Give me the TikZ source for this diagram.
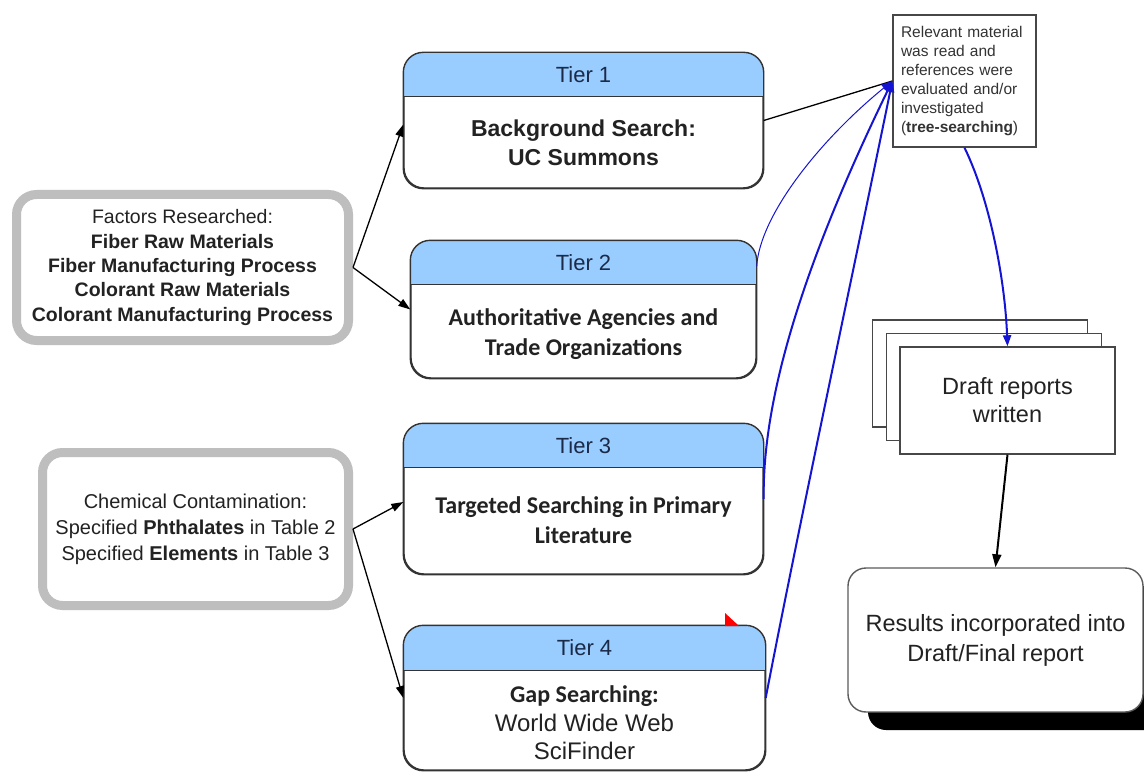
\documentclass[tikz,border=0pt]{standalone}
\usepackage{fontspec}
\setmainfont{Liberation Sans}
\newfontfamily\carlito{Carlito}
\usetikzlibrary{arrows.meta,calc,shadows}
\definecolor{hdr}{HTML}{99CCFF}
\definecolor{edge}{HTML}{333333}
\definecolor{txt}{HTML}{222222}
\definecolor{navy}{HTML}{1B2A47}
\definecolor{framegray}{HTML}{BEBEBE}
\definecolor{blu}{HTML}{1414D2}
\newcommand\tierhead[2]{%
  \begin{scope}
    \clip[rounded corners=20pt] (#1.south west) rectangle (#1.north east);
    \fill[hdr] (#1.north west) rectangle ($(#1.north east)+(0,#2)$);
  \end{scope}
  \draw[edge,line width=1.4pt] ($(#1.north west)+(0,#2)$) -- ($(#1.north east)+(0,#2)$);
  \draw[edge,line width=1.4pt,rounded corners=20pt] (#1.south west) rectangle (#1.north east);
}
\tikzset{
  tierbox/.style={draw=edge, line width=1.4pt, rounded corners=20pt, fill=white, inner sep=0pt},
  hdtext/.style={text=navy, font=\fontsize{22}{27}\selectfont, inner sep=0pt},
  bodyA/.style={text=txt, align=center, font=\fontsize{23}{29}\selectfont\bfseries, inner sep=0pt},
  bodyC/.style={text=txt, align=center, font=\fontsize{24}{30}\selectfont\carlito\bfseries, inner sep=0pt},
  framebox/.style={draw=framegray, line width=9pt, rounded corners=20pt, fill=white, text=txt, align=center, inner sep=0pt},
  notebox/.style={draw=edge!90, line width=1.4pt, fill=white, text=edge, align=left, text width=127pt, inner xsep=8pt, inner ysep=9pt, minimum height=132pt, font=\fontsize{15.5}{19}\selectfont},
  draftbox/.style={draw=edge!90, line width=1.4pt, fill=white, minimum width=215pt, minimum height=107pt, inner sep=0pt, align=center, text=txt, font=\fontsize{23.5}{28}\selectfont},
  resbox/.style={draw=edge!80, line width=1.4pt, fill=white, rounded corners=18pt, minimum width=295pt, minimum height=144pt, inner sep=0pt, align=center, text=txt, font=\fontsize{23.5}{30}\selectfont, drop shadow={fill=black, opacity=1, shadow xshift=20pt, shadow yshift=-18pt}},
  blk/.style={draw=black, line width=1.3pt, -{Triangle[length=12pt,width=8pt]}},
  bluethin/.style={draw=blu, line width=1pt, -{Triangle[length=11pt,width=8pt]}},
  bluethick/.style={draw=blu, line width=2pt, -{Triangle[length=11pt,width=8pt]}},
}
\begin{document}
\begin{tikzpicture}[x=1pt,y=-1pt]
\useasboundingbox (0,0) rectangle (1144,773);
\fill[white] (0,0) rectangle (1144,773);

% left boxes
\node[framebox, minimum width=332pt, minimum height=146pt, font=\fontsize{19.5}{24.3}\selectfont] (f1) at (182.5,267.5)
  {Factors Researched:\\\textbf{Fiber Raw Materials}\\\textbf{Fiber Manufacturing Process}\\\textbf{Colorant Raw Materials}\\\textbf{Colorant Manufacturing Process}};
\node[framebox, minimum width=306pt, minimum height=153pt, font=\fontsize{20}{26}\selectfont] (f2) at (195.5,529)
  {\raisebox{0pt}{Chemical Contamination:}\\Specified \textbf{Phthalates} in Table 2\\Specified \textbf{Elements} in Table 3};

% tier boxes
\node[tierbox, minimum width=359pt, minimum height=135pt] (t1) at (583.5,120.5) {};
\tierhead{t1}{44}
\node[hdtext] (t1h) at (583.5,75) {Tier 1};
\node[bodyA] (t1b) at (583.5,142.5) {Background Search:\\UC Summons};

\node[tierbox, minimum width=345pt, minimum height=137pt] (t2) at (583.5,309.5) {};
\tierhead{t2}{44}
\node[hdtext] (t2h) at (583.5,263) {Tier 2};
\node[bodyC] (t2b) at (583.5,334) {Authoritative Agencies and\\Trade Organizations};

\node[tierbox, minimum width=359pt, minimum height=150pt] (t3) at (583.5,499) {};
\tierhead{t3}{44}
\node[hdtext] (t3h) at (583.5,446) {Tier 3};
\node[bodyC] (t3b) at (583.5,520) {Targeted Searching in Primary\\Literature};

\node[tierbox, minimum width=361pt, minimum height=144pt] (t4) at (584.5,698) {};
\tierhead{t4}{45}
\node[hdtext] (t4h) at (584.5,648) {Tier 4};
\node[text=txt, align=center, inner sep=0pt, font=\fontsize{24}{28.5}\selectfont] (t4b) at (584.5,723)
  {{\carlito\bfseries Gap Searching:}\\World Wide Web\\SciFinder};
\fill[red] (725,613) -- (739,626) -- (725,626) -- cycle;

% arrows from left boxes
\draw[blk] (f1.east) -- ($(t1.west)+(0,4)$);
\draw[blk] (f1.east) -- (t2.west);
\draw[blk] (f2.east) -- ($(t3.west)+(0,3)$);
\draw[blk] (f2.east) -- (t4.west);

% notes box
\node[notebox] (n) at (964.5,81)
  {Relevant material\\was read and\\references were\\evaluated and/or\\investigated\\(\textbf{tree-searching})};

% draft stack
\node[draftbox] (d1) at (980,373.5) {};
\node[draftbox] (d2) at (994,387) {};
\node[draftbox] (d3) at (1007.5,400.5) {Draft reports\\written};

% results
\node[resbox] (r) at (995.5,640) {Results incorporated into\\Draft/Final report};

% connectors to notes
\draw[black, line width=1.3pt] (t1.east) -- (n.west);
\draw[bluethin] ($(t2.north east)+(0,26)$) .. controls (760,215) and (820,140) .. (n.west);
\draw[bluethick] (t3.east) .. controls (762,380) and (820,230) .. (n.west);
\draw[bluethick] (t4.east) .. controls (800,520) and (862,230) .. (n.west);
\draw[bluethick] (n.south) .. controls (990,200) and (1005,280) .. (d3.north);
\draw[black, line width=2pt, -{Triangle[length=13pt,width=9pt]}] (d3.south) -- (r.north);
\end{tikzpicture}
\end{document}
